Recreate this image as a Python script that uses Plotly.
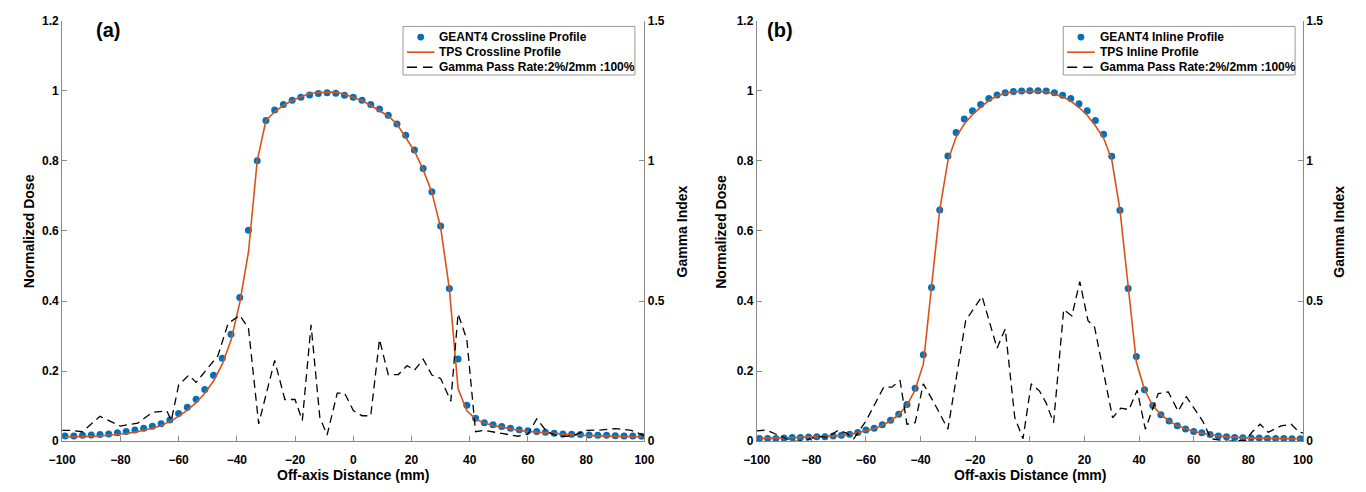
import plotly.graph_objects as go

# ---------------- data ----------------
x_profile = list(range(-99, 100, 3))  # off-axis positions (mm)

geant4_cross = [0.015, 0.015, 0.017, 0.018, 0.019, 0.021, 0.024, 0.028, 0.032, 0.037,
                0.043, 0.050, 0.061, 0.079, 0.097, 0.120, 0.148, 0.188, 0.237, 0.305,
                0.410, 0.602, 0.800, 0.915, 0.945, 0.961, 0.973, 0.981, 0.988, 0.992,
                0.994, 0.993, 0.987, 0.981, 0.973, 0.961, 0.948, 0.930, 0.905, 0.873,
                0.831, 0.778, 0.712, 0.614, 0.436, 0.235, 0.103, 0.066, 0.053, 0.047,
                0.042, 0.037, 0.033, 0.030, 0.028, 0.026, 0.023, 0.021, 0.020, 0.019,
                0.018, 0.017, 0.017, 0.016, 0.015, 0.015, 0.014]

tps_cross = [0.012, 0.012, 0.013, 0.014, 0.015, 0.017, 0.019, 0.022, 0.026, 0.031,
             0.037, 0.045, 0.056, 0.071, 0.089, 0.110, 0.137, 0.172, 0.220, 0.288,
             0.395, 0.540, 0.800, 0.915, 0.940, 0.958, 0.972, 0.982, 0.992, 0.995,
             0.996, 0.996, 0.990, 0.982, 0.972, 0.958, 0.942, 0.928, 0.905, 0.868,
             0.828, 0.775, 0.710, 0.610, 0.435, 0.150, 0.087, 0.063, 0.052, 0.045,
             0.040, 0.035, 0.031, 0.028, 0.026, 0.023, 0.021, 0.019, 0.018, 0.017,
             0.016, 0.015, 0.014, 0.014, 0.013, 0.013, 0.012]

gamma_cross_x = [-100, -97, -93, -87, -80, -74, -69, -64, -62.5, -60, -56.5, -54, -46.5,
                 -43, -39, -36, -32.5, -27, -23.5, -20, -17.5, -14.5, -11.5, -9, -5.5,
                 -3, 0, 3, 6, 9, 12, 15.5, 18.5, 21, 24, 27, 30, 33.5, 36, 39, 42, 45,
                 51, 56.5, 60, 63, 66.5, 71, 75.5, 80, 84.5, 90, 95.5, 100]
gamma_cross = [0.039, 0.039, 0.034, 0.089, 0.054, 0.065, 0.103, 0.108, 0.074, 0.200,
               0.236, 0.210, 0.305, 0.420, 0.449, 0.403, 0.062, 0.288, 0.149, 0.149,
               0.074, 0.415, 0.086, 0.022, 0.172, 0.172, 0.110, 0.091, 0.091, 0.363,
               0.238, 0.238, 0.270, 0.253, 0.293, 0.236, 0.224, 0.143, 0.455, 0.363,
               0.034, 0.039, 0.028, 0.018, 0.025, 0.080, 0.034, 0.016, 0.020, 0.039,
               0.040, 0.045, 0.039, 0.020]

geant4_in = [0.008, 0.008, 0.008, 0.009, 0.011, 0.011, 0.012, 0.013, 0.013, 0.015,
             0.017, 0.020, 0.025, 0.032, 0.037, 0.047, 0.060, 0.077, 0.105, 0.151,
             0.247, 0.439, 0.660, 0.814, 0.881, 0.919, 0.943, 0.961, 0.978, 0.988,
             0.994, 0.998, 0.999, 1.000, 1.000, 0.999, 0.994, 0.987, 0.978, 0.963,
             0.943, 0.915, 0.876, 0.813, 0.659, 0.436, 0.242, 0.147, 0.102, 0.076,
             0.058, 0.044, 0.035, 0.028, 0.024, 0.019, 0.015, 0.013, 0.011, 0.010,
             0.009, 0.009, 0.008, 0.008, 0.008, 0.007, 0.007]

tps_in = [0.008, 0.008, 0.008, 0.009, 0.010, 0.011, 0.012, 0.012, 0.013, 0.014,
          0.016, 0.019, 0.024, 0.030, 0.036, 0.046, 0.058, 0.076, 0.102, 0.147,
          0.220, 0.440, 0.660, 0.800, 0.868, 0.905, 0.932, 0.953, 0.972, 0.985,
          0.993, 0.997, 0.998, 0.998, 0.998, 0.997, 0.991, 0.983, 0.970, 0.952,
          0.930, 0.900, 0.865, 0.803, 0.660, 0.436, 0.226, 0.147, 0.102, 0.076,
          0.058, 0.044, 0.035, 0.028, 0.023, 0.018, 0.015, 0.013, 0.011, 0.010,
          0.009, 0.009, 0.008, 0.008, 0.008, 0.007, 0.007]

gamma_in_x = [-100, -96.5, -89, -86, -82, -78, -74, -70, -67, -64.5, -60, -53.5, -50.5,
              -47.5, -45, -42, -39, -35, -30, -23.5, -17.5, -12, -9, -5.5, -2.5, 0.5,
              3.5, 6, 8.7, 12.4, 15.4, 18.3, 21.3, 23.7, 30.3, 33.3, 36.3, 39.3, 42.3,
              47, 50.7, 54.3, 57.3, 63.3, 66.3, 72.3, 79, 81.3, 84.3, 87.3, 92, 95.7,
              98.7, 100]
gamma_in = [0.037, 0.040, 0.009, 0.000, 0.003, 0.017, 0.015, 0.040, 0.028, 0.009,
            0.072, 0.193, 0.193, 0.216, 0.061, 0.066, 0.205, 0.136, 0.043, 0.430,
            0.517, 0.332, 0.401, 0.084, 0.009, 0.205, 0.180, 0.136, 0.066, 0.470,
            0.447, 0.569, 0.430, 0.407, 0.084, 0.118, 0.113, 0.182, 0.043, 0.170,
            0.176, 0.107, 0.159, 0.072, 0.009, 0.000, 0.003, 0.032, 0.061, 0.032,
            0.055, 0.061, 0.032, 0.030]

names_a = ["GEANT4 Crossline Profile", "TPS Crossline Profile", "Gamma Pass Rate:2%/2mm :100%"]
names_b = ["GEANT4 Inline Profile", "TPS Inline Profile", "Gamma Pass Rate:2%/2mm :100%"]

x_ticks = list(range(-100, 101, 20))
dose_ticks = [0, 0.2, 0.4, 0.6, 0.8, 1, 1.2]
gamma_ticks = [0, 0.5, 1, 1.5]

# ---------------- style ----------------
BLUE = "#0072BD"
ORANGE = "#D95319"
AXC = "#8a8a8a"
FONT = "Liberation Sans"
W, H = 1366, 492


def px(x):
    return x / W


def py(y):
    return 1 - y / H


fig = go.Figure()

panels = [
    dict(x="x", yl="y", yr="y2", g4=geant4_cross, tps=tps_cross,
         gx=gamma_cross_x, g=gamma_cross, names=names_a, leg_right=632),
    dict(x="x2", yl="y3", yr="y4", g4=geant4_in, tps=tps_in,
         gx=gamma_in_x, g=gamma_in, names=names_b, leg_right=1304),
]
for p in panels:
    fig.add_trace(go.Scatter(x=x_profile, y=p["g4"], mode="markers", name=p["names"][0],
                             marker=dict(color=BLUE, size=7), xaxis=p["x"], yaxis=p["yl"]))
    fig.add_trace(go.Scatter(x=x_profile, y=p["tps"], mode="lines", name=p["names"][1],
                             line=dict(color=ORANGE, width=1.6), xaxis=p["x"], yaxis=p["yl"]))
    fig.add_trace(go.Scatter(x=p["gx"], y=p["g"], mode="lines", name=p["names"][2],
                             line=dict(color="black", width=1.3, dash="8px,5px"),
                             xaxis=p["x"], yaxis=p["yr"]))

tickfont = dict(family=FONT, size=12, color="black", weight="bold")
common = dict(showline=True, linecolor=AXC, linewidth=1, ticks="inside", ticklen=5,
              tickcolor=AXC, showgrid=False, zeroline=False, tickfont=tickfont)

ydom = [45 / H, 1 - 14 / H]
xa_dom = [49 / W, 641.7 / W]
xb_dom = [756 / W, 1312 / W]

fig.update_layout(
    width=W, height=H,
    margin=dict(l=0, r=0, t=0, b=0, pad=0),
    plot_bgcolor="white", paper_bgcolor="white",
    showlegend=False,
    xaxis=dict(domain=xa_dom, range=[-100, 100], tickvals=x_ticks, anchor="y",
               ticklabelstandoff=7, **common),
    xaxis2=dict(domain=xb_dom, range=[-100, 100], tickvals=x_ticks, anchor="y3",
                ticklabelstandoff=7, **common),
    yaxis=dict(domain=ydom, range=[0, 1.2], tickvals=dose_ticks, anchor="x", **common),
    yaxis2=dict(domain=ydom, range=[0, 1.5], tickvals=gamma_ticks, anchor="x",
                overlaying="y", side="right", **common),
    yaxis3=dict(domain=ydom, range=[0, 1.2], tickvals=dose_ticks, anchor="x2", **common),
    yaxis4=dict(domain=ydom, range=[0, 1.5], tickvals=gamma_ticks, anchor="x2",
                overlaying="y3", side="right", **common),
)

# ---- legend boxes (drawn in paper space, MATLAB-style compact) ----
leg_font = dict(family=FONT, size=12, color="black", weight="bold")
for p in panels:
    r = p["leg_right"]
    l = r - 236
    top, bot = 20, 70
    rows = [31, 46.5, 62]
    fig.add_shape(type="rect", xref="paper", yref="paper", x0=px(l), x1=px(r),
                  y0=py(bot), y1=py(top), line=dict(color="#999999", width=1),
                  fillcolor="white", layer="above")
    cx, cy = l + 18, rows[0]
    fig.add_shape(type="circle", xref="paper", yref="paper", x0=px(cx - 3.5), x1=px(cx + 3.5),
                  y0=py(cy + 3.5), y1=py(cy - 3.5), line=dict(color=BLUE, width=0),
                  fillcolor=BLUE, layer="above")
    fig.add_shape(type="line", xref="paper", yref="paper", x0=px(l + 4), x1=px(l + 32),
                  y0=py(rows[1]), y1=py(rows[1]), line=dict(color=ORANGE, width=1.6),
                  layer="above")
    fig.add_shape(type="line", xref="paper", yref="paper", x0=px(l + 4), x1=px(l + 30),
                  y0=py(rows[2]), y1=py(rows[2]),
                  line=dict(color="black", width=1.3, dash="10px,6px"), layer="above")
    for name, ry in zip(p["names"], rows):
        fig.add_annotation(text=name, xref="paper", yref="paper", x=px(l + 35), y=py(ry),
                           xanchor="left", yanchor="middle", showarrow=False, font=leg_font)

ann_font = dict(family=FONT, size=14, color="black", weight="bold")
anns = [
    dict(text="Off-axis Distance (mm)", x=px(345), y=py(482), textangle=0),
    dict(text="Off-axis Distance (mm)", x=px(1034), y=py(482), textangle=0),
    dict(text="Normalized Dose", x=px(16), y=py(231), textangle=-90),
    dict(text="Normalized Dose", x=px(720), y=py(231), textangle=-90),
    dict(text="Gamma Index", x=px(680), y=py(231), textangle=-90),
    dict(text="Gamma Index", x=px(1349), y=py(231), textangle=-90),
]
for a in anns:
    fig.add_annotation(xref="paper", yref="paper", xanchor="center", yanchor="middle",
                       showarrow=False, font=ann_font, **a)

for lbl, lx in [("(a)", 96), ("(b)", 780)]:
    fig.add_annotation(text=lbl, xref="paper", yref="paper", x=px(lx), y=py(24),
                       xanchor="center", yanchor="middle", showarrow=False,
                       font=dict(family=FONT, size=20, color="black", weight="bold"))

fig.write_html("out.html")
